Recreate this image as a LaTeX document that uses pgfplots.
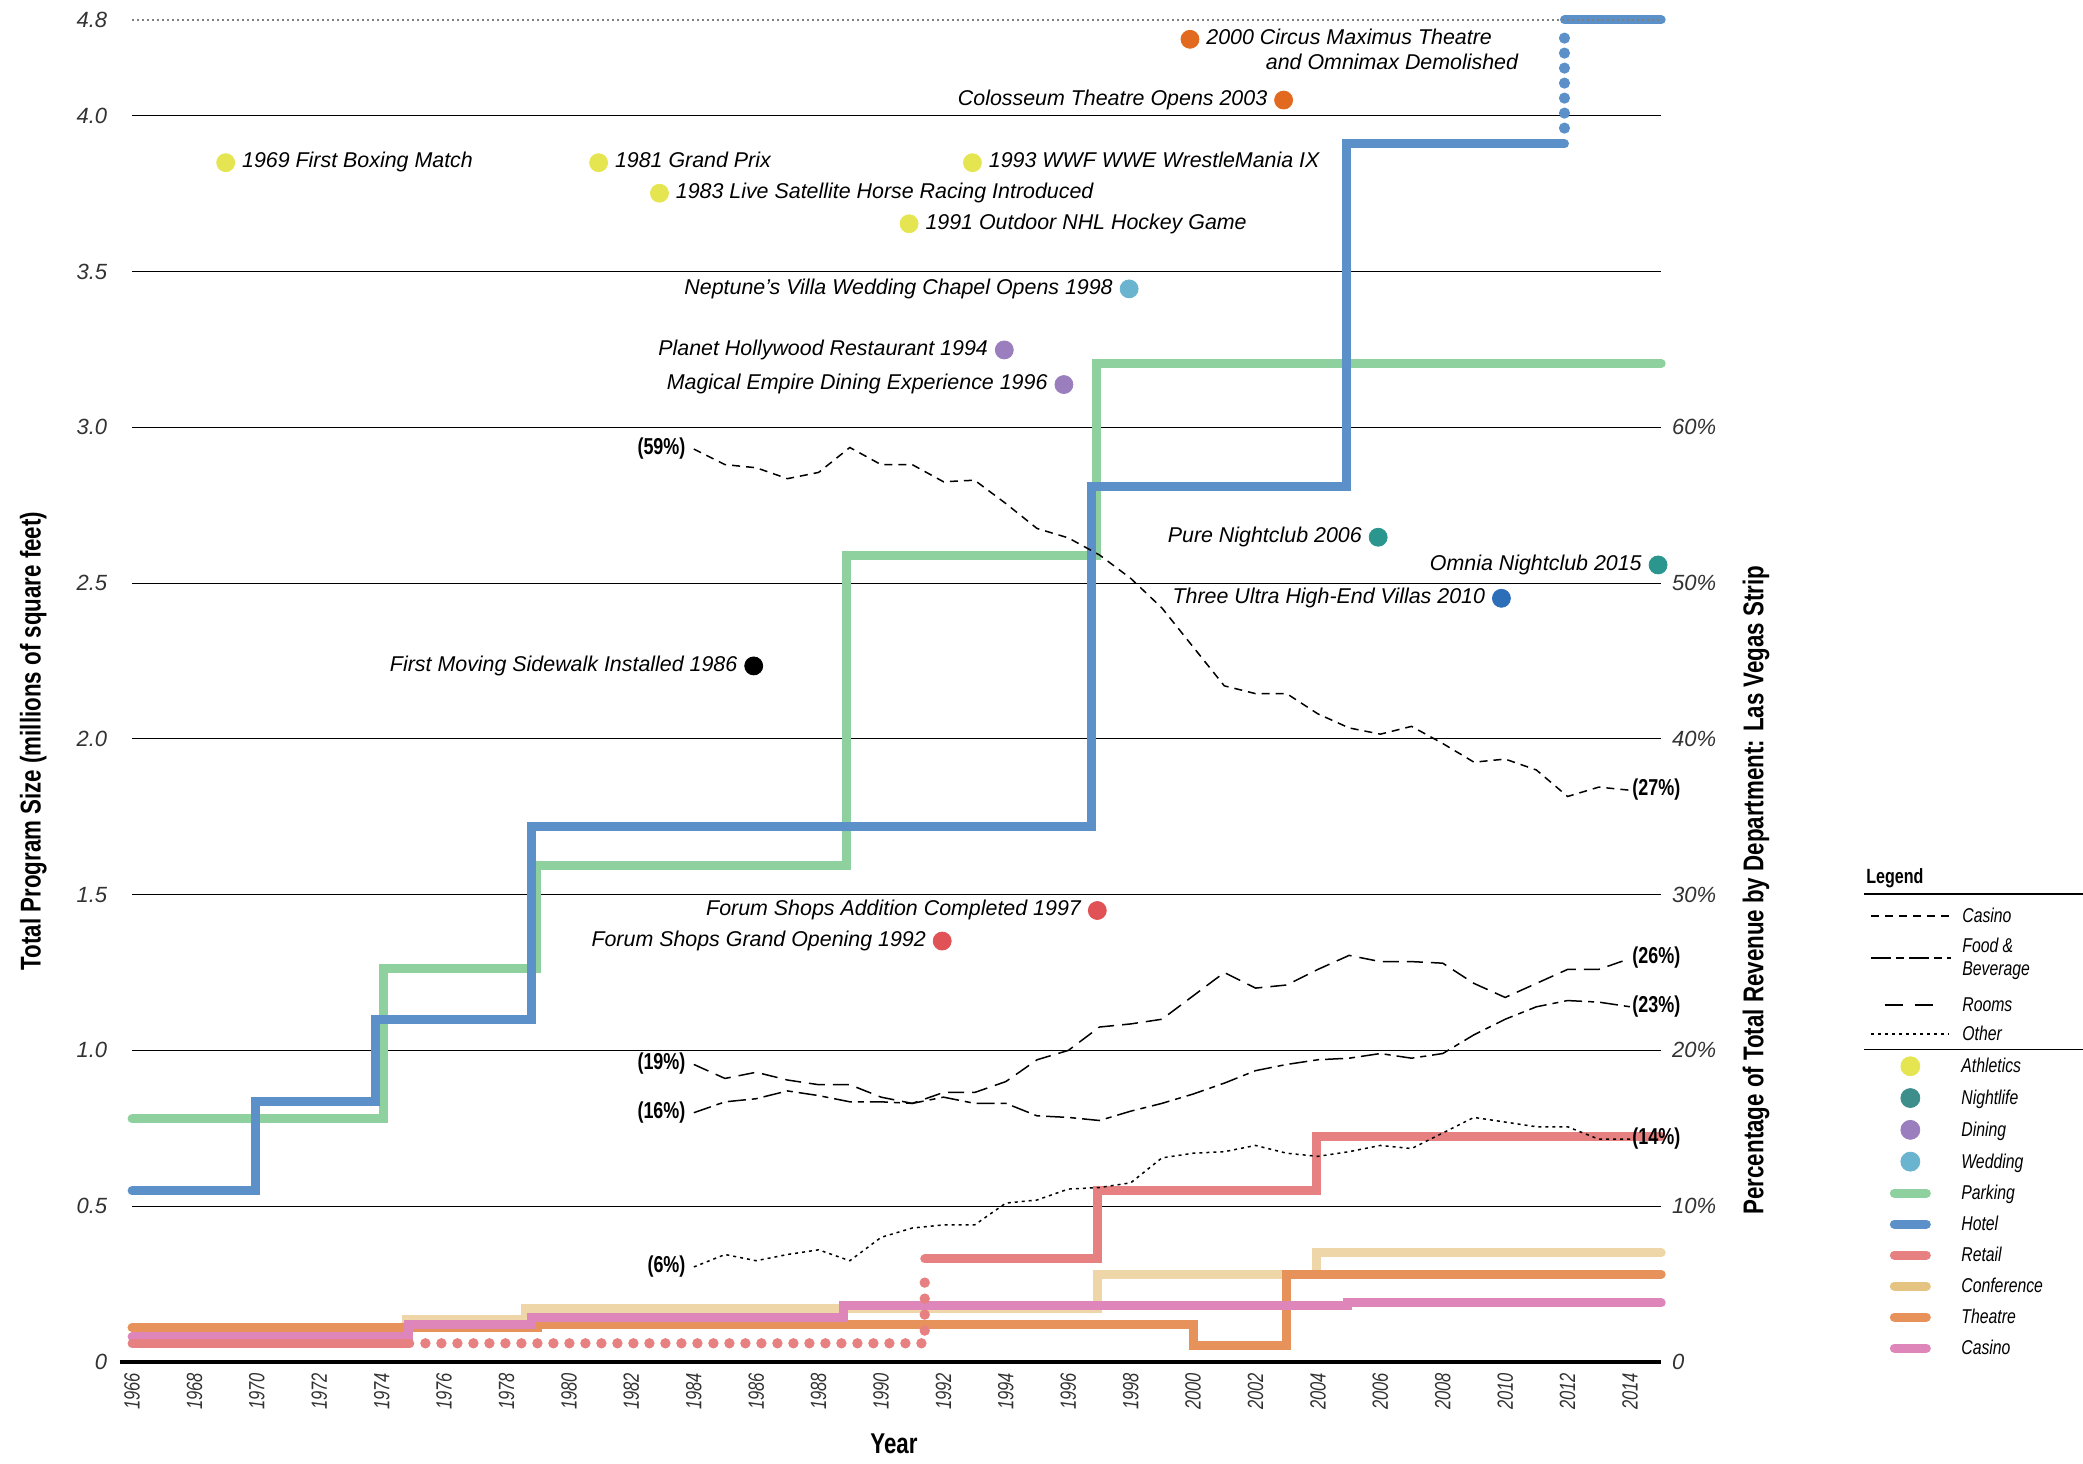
\documentclass[border=0pt]{standalone}
\usepackage{pgfplots}
\pgfplotsset{compat=1.18}
\usepackage{fontspec}
\setmainfont{Liberation Sans}
\newfontfamily\condfont{Liberation Sans}[FakeStretch=0.79]
\newfontfamily\titlefont{Liberation Sans}[FakeStretch=0.78]
\newfontfamily\xcond{Liberation Sans}[FakeStretch=0.75]

\definecolor{cPark}{RGB}{143,209,158}
\definecolor{cHotel}{RGB}{91,144,200}
\definecolor{cRetail}{RGB}{231,128,128}
\definecolor{cConf}{RGB}{238,214,168}
\definecolor{cConfL}{RGB}{228,196,128}
\definecolor{cTheatre}{RGB}{230,146,90}
\definecolor{cCasino}{RGB}{222,134,186}
\definecolor{cAth}{RGB}{229,229,82}
\definecolor{cNight}{RGB}{42,150,142}
\definecolor{cNightL}{RGB}{62,143,140}
\definecolor{cDine}{RGB}{155,126,190}
\definecolor{cWed}{RGB}{106,180,208}
\definecolor{cVilla}{RGB}{45,110,185}
\definecolor{cForum}{RGB}{224,82,86}
\definecolor{cTheEv}{RGB}{226,106,32}
\definecolor{cTick}{RGB}{50,50,50}

\newcommand\xtickf{\xcond\itshape\fontsize{11}{13}\selectfont}
\newcommand\ytickf{\itshape\fontsize{11}{13}\selectfont}
\newcommand\ttlf{\titlefont\bfseries\fontsize{14.3}{16}\selectfont}
\newcommand\pctf{\titlefont\bfseries\fontsize{11.5}{13}\selectfont}
\newcommand\evf{\itshape\fontsize{10.7}{12.5}\selectfont}
\newcommand\legf{\condfont\itshape\fontsize{10}{12}\selectfont}
\newcommand\legtf{\titlefont\bfseries\fontsize{10.3}{12}\selectfont}
\newcommand\lstrut{\rule[-3pt]{0pt}{11pt}}

\pgfplotsset{
  step/.style={forget plot, const plot, line width=4.5pt, line cap=round, line join=miter},
  dots/.style={forget plot, line width=5.2pt, line cap=round, dash pattern=on 0pt off 8pt},
  ev/.style={forget plot, only marks, mark=*, mark size=4.5pt},
  dotleg/.style={legend image code/.code={\path[draw=none,fill=none] (0pt,-4pt) rectangle (40pt,4pt); \fill[#1] (20pt,0pt) circle (4.75pt);}},
  barleg/.style={legend image code/.code={\path[draw=none,fill=none] (0pt,-4pt) rectangle (40pt,4pt); \draw[#1,line width=4.5pt,line cap=round] (12pt,0pt) -- (28pt,0pt);}},
}

\begin{document}
\begin{tikzpicture}
\path[use as bounding box] (0,0) rectangle (1041.5pt,731.5pt);
\begin{axis}[
  at={(59.8pt,50.5pt)}, anchor=south west,
  scale only axis, width=770.8pt, height=677.7pt,
  xmin=1965.6, xmax=2015, ymin=0, ymax=4.35,
  clip=false,
  axis line style={draw=none},
  major tick length=0pt,
  xtick={1966,1968,...,2014},
  xticklabel style={rotate=90, anchor=east, font=\xtickf, text=cTick},
  xticklabel shift=2pt,
  /pgf/number format/1000 sep={},
  /pgf/number format/assume math mode=true,
  ytick={0,0.5,1,1.5,2,2.5,3,3.5,4,4.307},
  yticklabels={0,0.5,1.0,1.5,2.0,2.5,3.0,3.5,4.0,4.8},
  yticklabel style={font=\ytickf, xshift=-2.7pt, text=cTick},
  legend style={at={(1.1354,0.2258)}, anchor=north west, draw=none, fill=none,
    inner sep=0pt, row sep=6.0pt, column sep=5.5pt, font=\legf, nodes={inner sep=0pt}},
  legend cell align=left,
]
% grid
\addplot[forget plot, black, line width=0.5pt] coordinates {(1966,0.5)(2015,0.5)};
\addplot[forget plot, black, line width=0.5pt] coordinates {(1966,1)(2015,1)};
\addplot[forget plot, black, line width=0.5pt] coordinates {(1966,1.5)(2015,1.5)};
\addplot[forget plot, black, line width=0.5pt] coordinates {(1966,2)(2015,2)};
\addplot[forget plot, black, line width=0.5pt] coordinates {(1966,2.5)(2015,2.5)};
\addplot[forget plot, black, line width=0.5pt] coordinates {(1966,3)(2015,3)};
\addplot[forget plot, black, line width=0.5pt] coordinates {(1966,3.5)(2015,3.5)};
\addplot[forget plot, black, line width=0.5pt] coordinates {(1966,4)(2015,4)};
% conference
\addplot[step, cConf] coordinates {(1966,0.11)(1974.8,0.135)(1978.6,0.171)(1996.95,0.281)(2003.95,0.35)(2015,0.35)};
% theatre
\addplot[step, cTheatre] coordinates {(1966,0.11)(1979,0.12)(2000,0.052)(2003,0.282)(2015,0.282)};
% casino
\addplot[step, cCasino] coordinates {(1966,0.081)(1974.85,0.121)(1978.8,0.142)(1988.8,0.181)(2004.95,0.19)(2015,0.19)};
% retail
\addplot[step, cRetail] coordinates {(1966,0.06)(1974.9,0.06)};
\addplot[dots, cRetail] coordinates {(1975.4,0.06)(1991.4,0.06)(1991.4,0.28)};
\addplot[step, cRetail] coordinates {(1991.4,0.331)(1996.95,0.55)(2003.95,0.724)(2015,0.724)};
% parking
\addplot[step, cPark] coordinates {(1966,0.78)(1974.05,1.262)(1978.95,1.594)(1988.9,2.587)(1996.9,3.205)(2015,3.205)};
% hotel
\addplot[step, cHotel] coordinates {(1966,0.55)(1969.95,0.835)(1973.8,1.10)(1978.8,1.718)(1996.75,2.81)(2004.9,3.909)(2011.9,3.909)};
\addplot[forget plot, cHotel, line width=5.6pt, line cap=round, dash pattern=on 0pt off 7.5pt] coordinates {(2011.9,3.96)(2011.9,4.26)};
\addplot[step, cHotel] coordinates {(2011.9,4.307)(2015,4.307)};
% top dotted line
\addplot[forget plot, gray, line width=0.6pt, dash pattern=on 1pt off 1.5pt] coordinates {(1966,4.307)(2015,4.307)};
% bottom axis
\addplot[forget plot, black, line width=2pt] coordinates {(1965.6,0)(2015,0)};

% events
\addplot[ev, cAth] coordinates {(1969.0,3.849)(1980.95,3.849)(1982.9,3.751)(1990.9,3.653)(1992.93,3.849)};
\addplot[ev, cTheEv] coordinates {(1999.9,4.245)(2002.9,4.05)};
\addplot[ev, cWed] coordinates {(1997.95,3.444)};
\addplot[ev, cDine] coordinates {(1993.95,3.248)(1995.86,3.137)};
\addplot[ev, cNight] coordinates {(2005.93,2.647)(2014.9,2.558)};
\addplot[ev, cVilla] coordinates {(2009.88,2.451)};
\addplot[ev, black] coordinates {(1985.92,2.234)};
\addplot[ev, cForum] coordinates {(1996.93,1.449)(1991.96,1.351)};

\node[anchor=mid west, inner sep=0pt, xshift=8pt, font=\evf] at (axis cs:1969.0,3.849) {1969 First Boxing Match};
\node[anchor=mid west, inner sep=0pt, xshift=8pt, font=\evf] at (axis cs:1980.95,3.849) {1981 Grand Prix};
\node[anchor=mid west, inner sep=0pt, xshift=8pt, font=\evf] at (axis cs:1982.9,3.751) {1983 Live Satellite Horse Racing Introduced};
\node[anchor=mid west, inner sep=0pt, xshift=8pt, font=\evf] at (axis cs:1990.9,3.653) {1991 Outdoor NHL Hockey Game};
\node[anchor=mid west, inner sep=0pt, xshift=8pt, font=\evf] at (axis cs:1992.93,3.849) {1993 WWF WWE WrestleMania IX};
\node[anchor=mid west, inner sep=0pt, xshift=8pt, font=\evf] at (axis cs:1999.9,4.245) {2000 Circus Maximus Theatre};
\node[anchor=mid west, inner sep=0pt, font=\evf] at (axis cs:2002.32,4.165) {and Omnimax Demolished};
\node[anchor=mid east, inner sep=0pt, xshift=-8pt, font=\evf] at (axis cs:2002.9,4.05) {Colosseum Theatre Opens 2003};
\node[anchor=mid east, inner sep=0pt, xshift=-8pt, font=\evf] at (axis cs:1997.95,3.444) {Neptune’s Villa Wedding Chapel Opens 1998};
\node[anchor=mid east, inner sep=0pt, xshift=-8pt, font=\evf] at (axis cs:1993.95,3.248) {Planet Hollywood Restaurant 1994};
\node[anchor=mid east, inner sep=0pt, xshift=-8pt, font=\evf] at (axis cs:1995.86,3.137) {Magical Empire Dining Experience 1996};
\node[anchor=mid east, inner sep=0pt, xshift=-8pt, font=\evf] at (axis cs:2005.93,2.647) {Pure Nightclub 2006};
\node[anchor=mid east, inner sep=0pt, xshift=-8pt, font=\evf] at (axis cs:2014.9,2.558) {Omnia Nightclub 2015};
\node[anchor=mid east, inner sep=0pt, xshift=-8pt, font=\evf] at (axis cs:2009.88,2.451) {Three Ultra High-End Villas 2010};
\node[anchor=mid east, inner sep=0pt, xshift=-8pt, font=\evf] at (axis cs:1985.92,2.234) {First Moving Sidewalk Installed 1986};
\node[anchor=mid east, inner sep=0pt, xshift=-8pt, font=\evf] at (axis cs:1996.93,1.449) {Forum Shops Addition Completed 1997};
\node[anchor=mid east, inner sep=0pt, xshift=-8pt, font=\evf] at (axis cs:1991.96,1.351) {Forum Shops Grand Opening 1992};

% legend (events and programs)
\addlegendimage{dotleg=cAth}\addlegendentry{\lstrut Athletics}
\addlegendimage{dotleg=cNightL}\addlegendentry{\lstrut Nightlife}
\addlegendimage{dotleg=cDine}\addlegendentry{\lstrut Dining}
\addlegendimage{dotleg=cWed}\addlegendentry{\lstrut Wedding}
\addlegendimage{barleg=cPark}\addlegendentry{\lstrut Parking}
\addlegendimage{barleg=cHotel}\addlegendentry{\lstrut Hotel}
\addlegendimage{barleg=cRetail}\addlegendentry{\lstrut Retail}
\addlegendimage{barleg=cConfL}\addlegendentry{\lstrut Conference}
\addlegendimage{barleg=cTheatre}\addlegendentry{\lstrut Theatre}
\addlegendimage{barleg=cCasino}\addlegendentry{\lstrut Casino}
\end{axis}

\begin{axis}[
  at={(59.8pt,50.5pt)}, anchor=south west,
  scale only axis, width=770.8pt, height=677.7pt,
  xmin=1965.6, xmax=2015, ymin=0, ymax=87,
  clip=false,
  axis line style={draw=none},
  major tick length=0pt,
  xtick=\empty,
  ytick={0,10,20,30,40,50,60},
  yticklabels={0,10\%,20\%,30\%,40\%,50\%,60\%},
  yticklabel pos=right,
  yticklabel style={font=\ytickf, xshift=1.9pt, text=cTick},
  legend style={at={(1.1354,0.3364)}, anchor=north west, draw=none, fill=none,
    inner sep=0pt, row sep=5.3pt, column sep=5.5pt, font=\legf, nodes={inner sep=0pt}},
  legend cell align=left,
]
% Casino
\addplot[forget plot, black, line width=0.75pt, dash pattern=on 4pt off 3pt] coordinates {
(1984,58.6)(1985,57.6)(1986,57.4)(1987,56.7)(1988,57.1)(1989,58.7)(1990,57.6)(1991,57.6)
(1992,56.5)(1993,56.6)(1994,55.1)(1995,53.5)(1996,52.9)(1997,51.8)(1998,50.3)(1999,48.4)
(2000,45.9)(2001,43.4)(2002,42.9)(2003,42.9)(2004,41.6)(2005,40.7)(2006,40.3)(2007,40.8)
(2008,39.7)(2009,38.5)(2010,38.7)(2011,38.0)(2012,36.3)(2013,36.9)(2014,36.7)};
% Rooms
\addplot[forget plot, black, line width=0.75pt, dash pattern=on 8pt off 4pt] coordinates {
(1984,19.1)(1985,18.2)(1986,18.6)(1987,18.1)(1988,17.8)(1989,17.8)(1990,17.0)(1991,16.6)
(1992,17.3)(1993,17.3)(1994,18.0)(1995,19.4)(1996,20.0)(1997,21.5)(1998,21.7)(1999,22.0)
(2000,23.5)(2001,25.0)(2002,24.0)(2003,24.2)(2004,25.2)(2005,26.1)(2006,25.7)(2007,25.7)
(2008,25.6)(2009,24.3)(2010,23.4)(2011,24.3)(2012,25.2)(2013,25.2)(2014,25.9)};
% Food & Beverage
\addplot[forget plot, black, line width=0.75pt, dash pattern=on 9pt off 3pt on 3pt off 3pt] coordinates {
(1984,16.0)(1985,16.7)(1986,16.9)(1987,17.4)(1988,17.1)(1989,16.7)(1990,16.7)(1991,16.6)
(1992,17.0)(1993,16.6)(1994,16.6)(1995,15.8)(1996,15.7)(1997,15.5)(1998,16.1)(1999,16.6)
(2000,17.2)(2001,17.9)(2002,18.7)(2003,19.1)(2004,19.4)(2005,19.5)(2006,19.8)(2007,19.5)
(2008,19.8)(2009,21.0)(2010,22.0)(2011,22.8)(2012,23.2)(2013,23.1)(2014,22.8)};
% Other
\addplot[forget plot, black, line width=0.75pt, dash pattern=on 1.5pt off 2pt] coordinates {
(1984,6.1)(1985,6.9)(1986,6.5)(1987,6.9)(1988,7.2)(1989,6.5)(1990,8.0)(1991,8.6)
(1992,8.8)(1993,8.8)(1994,10.2)(1995,10.4)(1996,11.1)(1997,11.2)(1998,11.5)(1999,13.1)
(2000,13.4)(2001,13.5)(2002,13.9)(2003,13.4)(2004,13.2)(2005,13.5)(2006,13.9)(2007,13.7)
(2008,14.7)(2009,15.7)(2010,15.4)(2011,15.1)(2012,15.1)(2013,14.3)(2014,14.3)};

\node[anchor=mid east, inner sep=0pt, xshift=-4pt, font=\pctf] at (axis cs:1984,58.6) {(59\%)};
\node[anchor=mid east, inner sep=0pt, xshift=-4pt, font=\pctf] at (axis cs:1984,19.1) {(19\%)};
\node[anchor=mid east, inner sep=0pt, xshift=-4pt, font=\pctf] at (axis cs:1984,16.0) {(16\%)};
\node[anchor=mid east, inner sep=0pt, xshift=-4pt, font=\pctf] at (axis cs:1984,6.1) {(6\%)};
\node[anchor=mid west, inner sep=0pt, xshift=1pt, font=\pctf] at (axis cs:2014,36.7) {(27\%)};
\node[anchor=mid west, inner sep=0pt, xshift=1pt, font=\pctf] at (axis cs:2014,25.9) {(26\%)};
\node[anchor=mid west, inner sep=0pt, xshift=1pt, font=\pctf] at (axis cs:2014,22.8) {(23\%)};
\node[anchor=mid west, inner sep=0pt, xshift=1pt, font=\pctf] at (axis cs:2014,14.3) {(14\%)};

\addlegendimage{legend image code/.code={\path[draw=none,fill=none] (0pt,-4pt) rectangle (40pt,4pt); \draw[black,line width=1pt,dash pattern=on 4pt off 3pt] (0pt,0pt) -- (39pt,0pt);}}
\addlegendentry{\lstrut Casino}
\addlegendimage{legend image code/.code={\path[draw=none,fill=none] (0pt,-4pt) rectangle (40pt,4pt); \draw[overlay,black,line width=1pt,dash pattern=on 10pt off 2.5pt on 4pt off 2.5pt] (0pt,-6pt) -- (40pt,-6pt);}}
\addlegendentry{\lstrut Food \&}
\addlegendimage{legend image code/.code={\path[draw=none,fill=none] (0pt,-4pt) rectangle (40pt,4pt);}}
\addlegendentry{\lstrut\raisebox{3.3pt}[8pt][3pt]{Beverage}}
\addlegendimage{legend image code/.code={\path[draw=none,fill=none] (0pt,-4pt) rectangle (40pt,4pt); \draw[black,line width=1pt,dash pattern=on 9pt off 6pt] (6.6pt,0pt) -- (31pt,0pt);}}
\addlegendentry{\lstrut Rooms}
\addlegendimage{legend image code/.code={\path[draw=none,fill=none] (0pt,-4pt) rectangle (40pt,4pt); \draw[black,line width=1pt,dash pattern=on 1.5pt off 2pt] (0pt,0pt) -- (39pt,0pt);}}
\addlegendentry{\lstrut Other}
\end{axis}

\node[font=\ttlf, inner sep=0pt] at (447pt,9.5pt) {Year};
\node[font=\ttlf, inner sep=0pt, rotate=90] at (16.6pt,361pt) {Total Program Size (millions of square feet)};
\node[font=\ttlf, inner sep=0pt, rotate=90] at (878pt,286.5pt) {Percentage of Total Revenue by Department: Las Vegas Strip};
\node[font=\legtf, inner sep=0pt, anchor=west] at (933pt,292.5pt) {Legend};
\draw[black, line width=0.75pt] (932pt,284.5pt) -- (1041.5pt,284.5pt);
\draw[black, line width=0.75pt] (932pt,206.8pt) -- (1041.5pt,206.8pt);
\end{tikzpicture}
\end{document}
